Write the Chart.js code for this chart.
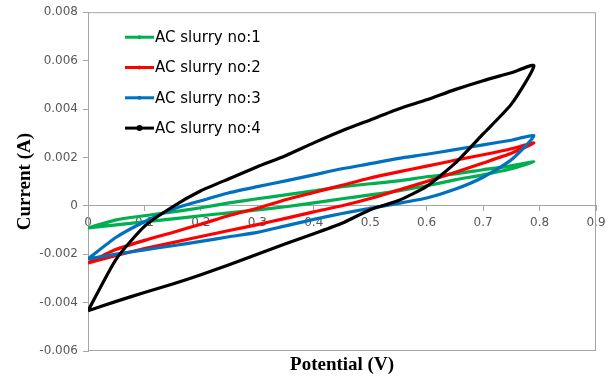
<!DOCTYPE html>
<html>
<head>
<meta charset="utf-8">
<script src="https://cdn.jsdelivr.net/npm/chart.js@4/dist/chart.umd.min.js"></script>
<style>
  body { margin: 0; background: #fff; }
  #wrap { width: 615px; height: 380px; }
</style>
</head>
<body>
<div id="wrap"><canvas id="chart" width="615" height="380"></canvas></div>
<script>
// potential grid (V), shared by every sweep
const potential = [0, 0.05, 0.1, 0.15, 0.2, 0.25, 0.3, 0.35, 0.4, 0.45, 0.5, 0.55, 0.6, 0.65, 0.7, 0.75, 0.79];

// current (A): upper branch (forward) and lower branch (return), both listed at the potentials above
const slurry1Up = [-0.00091, -0.00058, -0.00041, -0.00025, -0.00008, 0.00012, 0.00029, 0.00045, 0.00062, 0.00079, 0.00091, 0.00103, 0.0012, 0.00132, 0.00149, 0.00165, 0.00182];
const slurry1Down = [-0.00091, -0.00079, -0.00066, -0.00054, -0.00041, -0.00029, -0.00017, -0.00004, 0.00012, 0.00029, 0.00045, 0.00062, 0.00083, 0.00107, 0.00128, 0.00153, 0.00182];

const slurry2Up = [-0.00236, -0.0018, -0.00143, -0.0011, -0.00076, -0.0004, -0.0001, 0.00025, 0.00055, 0.00085, 0.00115, 0.0014, 0.00164, 0.00188, 0.00211, 0.00236, 0.0026];
const slurry2Down = [-0.00236, -0.00205, -0.00177, -0.00152, -0.00127, -0.00102, -0.00078, -0.00052, -0.00025, 0.0, 0.0003, 0.00065, 0.001, 0.00138, 0.00177, 0.00217, 0.0026];

const slurry3Up = [-0.00219, -0.0013, -0.00066, -0.00014, 0.00021, 0.00054, 0.00079, 0.00103, 0.00128, 0.00153, 0.00174, 0.00196, 0.00213, 0.00232, 0.00252, 0.00271, 0.00289];
const slurry3Down = [-0.00219, -0.002, -0.00182, -0.00165, -0.00147, -0.00128, -0.0011, -0.00083, -0.00056, -0.00032, -0.0001, 0.0001, 0.00032, 0.00068, 0.00118, 0.0019, 0.00289];

const slurry4Up = [-0.00434, -0.0022, -0.00085, -0.00004, 0.00062, 0.00112, 0.00161, 0.00207, 0.0026, 0.0031, 0.00355, 0.004, 0.00438, 0.0048, 0.00517, 0.0055, 0.00579];
const slurry4Down = [-0.00434, -0.00395, -0.00358, -0.00323, -0.00285, -0.00244, -0.002, -0.00157, -0.00115, -0.00072, -0.00016, 0.00022, 0.0008, 0.00175, 0.00297, 0.0042, 0.00579];

const labels = ['AC slurry no:1', 'AC slurry no:2', 'AC slurry no:3', 'AC slurry no:4'];
const colors = ['#00b050', '#ff0000', '#0070c0', '#000000'];

const yTicks = { min: -0.006, max: 0.008, step: 0.002 };
const xTicks = { min: 0, max: 0.9, step: 0.1 };

const axisGray = '#a6a6a6';
const tickGray = '#595959';
const sansFont = '"DejaVu Sans", Verdana, sans-serif';
const serifFont = '"Liberation Serif", "Times New Roman", serif';

function loop(up, down) {
    const pts = potential.map((v, i) => ({ x: v, y: up[i] }));
    for (let i = potential.length - 2; i >= 0; i--) {
        pts.push({ x: potential[i], y: down[i] });
    }
    return pts;
}

const sweeps = [
    [slurry1Up, slurry1Down],
    [slurry2Up, slurry2Down],
    [slurry3Up, slurry3Down],
    [slurry4Up, slurry4Down]
];

const datasets = sweeps.map((s, i) => ({
    label: labels[i],
    data: loop(s[0], s[1]),
    borderColor: colors[i],
    backgroundColor: colors[i],
    borderWidth: 3.2,
    pointRadius: 0,
    tension: 0.2,
    fill: false,
    order: 4 - i
}));

// box round the plot area
const frame = {
    id: 'frame',
    beforeDatasetsDraw(chart) {
        const a = chart.chartArea, ctx = chart.ctx;
        ctx.save();
        ctx.strokeStyle = axisGray;
        ctx.lineWidth = 1;
        ctx.strokeRect(a.left + 0.5, a.top + 0.5, a.right - a.left - 1, a.bottom - a.top - 1);
        ctx.restore();
    }
};

// legend inside the plot, top left
const insideLegend = {
    id: 'insideLegend',
    afterDraw(chart) {
        const a = chart.chartArea, ctx = chart.ctx;
        ctx.save();
        ctx.font = '15px ' + sansFont;
        ctx.textBaseline = 'middle';
        chart.data.datasets.forEach((ds, i) => {
            const y = a.top + 25 + i * 30.3;
            const x0 = a.left + 37;
            ctx.strokeStyle = ds.borderColor;
            ctx.lineWidth = 3;
            ctx.beginPath();
            ctx.moveTo(x0, y);
            ctx.lineTo(x0 + 29, y);
            ctx.stroke();
            ctx.fillStyle = ds.borderColor;
            ctx.beginPath();
            ctx.arc(x0 + 14.5, y, i === 3 ? 3 : 2, 0, Math.PI * 2);
            ctx.fill();
            ctx.fillStyle = '#000';
            ctx.fillText(ds.label, x0 + 30, y + 1);
        });
        ctx.restore();
    }
};

new Chart(document.getElementById('chart'), {
    type: 'line',
    data: { datasets: datasets },
    plugins: [frame, insideLegend],
    options: {
        responsive: false,
        devicePixelRatio: 1,
        animation: false,
        events: [],
        layout: { padding: { top: 12, right: 19, bottom: 0, left: 0 } },
        scales: {
            x: {
                type: 'linear',
                position: { y: 0 },
                min: xTicks.min,
                max: xTicks.max,
                afterFit: (scale) => { scale.height = 0; },
                ticks: {
                    stepSize: xTicks.step,
                    color: tickGray,
                    font: { family: sansFont, size: 12 },
                    padding: 5,
                    maxRotation: 0
                },
                grid: { drawOnChartArea: false, drawTicks: true, tickLength: 5, color: axisGray },
                border: { display: true, color: axisGray }
            },
            x2: {
                type: 'linear',
                position: 'bottom',
                min: xTicks.min,
                max: xTicks.max,
                afterFit: (scale) => { scale.height = 29; },
                ticks: { display: false },
                grid: { display: false },
                border: { display: false },
                title: {
                    display: true,
                    text: 'Potential (V)',
                    color: '#000',
                    font: { family: serifFont, size: 19, weight: 'bold' },
                    padding: { top: 0, bottom: 4 }
                }
            },
            y: {
                type: 'linear',
                min: yTicks.min,
                max: yTicks.max,
                afterFit: (scale) => { scale.width = 88; },
                ticks: {
                    stepSize: yTicks.step,
                    color: tickGray,
                    font: { family: sansFont, size: 12 },
                    padding: 5
                },
                grid: { drawOnChartArea: false, drawTicks: true, tickLength: 5, color: axisGray },
                border: { display: true, color: axisGray },
                title: {
                    display: true,
                    text: 'Current (A)',
                    color: '#000',
                    font: { family: serifFont, size: 19, weight: 'bold' },
                    padding: { top: 14, bottom: 4 }
                }
            }
        },
        plugins: {
            legend: { display: false },
            tooltip: { enabled: false }
        }
    }
});
</script>
</body>
</html>
